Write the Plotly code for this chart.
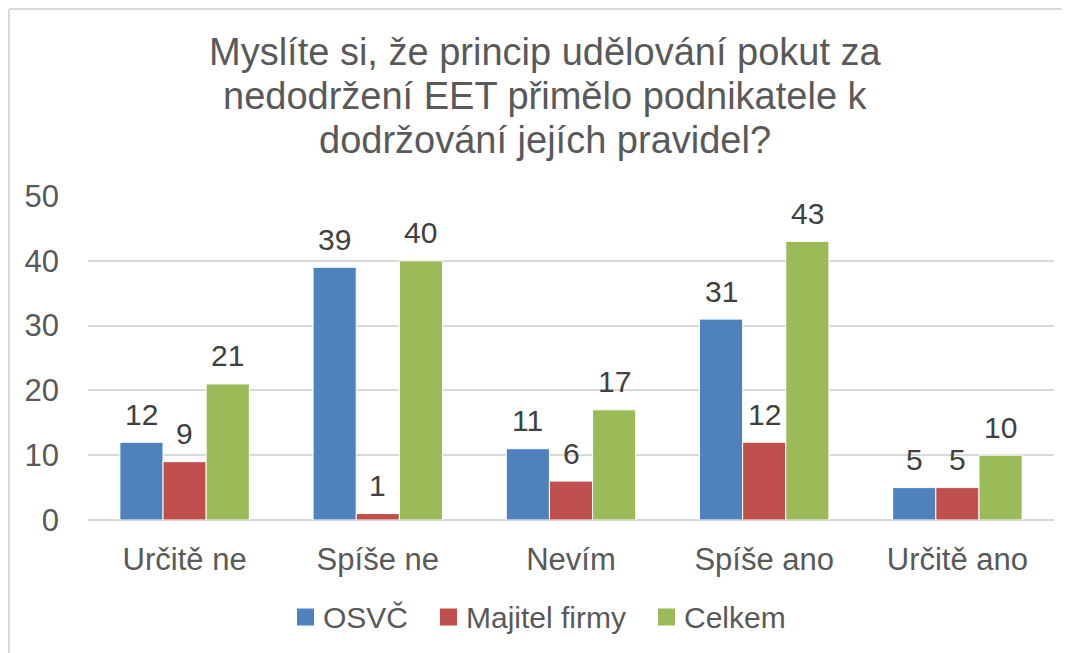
import plotly.graph_objects as go

categories = ["Určitě ne", "Spíše ne", "Nevím", "Spíše ano", "Určitě ano"]
series_names = ["OSVČ", "Majitel firmy", "Celkem"]
osvc = [12, 39, 11, 31, 5]
majitel = [9, 1, 6, 12, 5]
celkem = [21, 40, 17, 43, 10]
colors = ["#4F81BD", "#C0504D", "#9BBB59"]
y_ticks = [0, 10, 20, 30, 40, 50]
title_lines = [
    "Myslíte si, že princip udělování pokut za",
    "nedodržení EET přimělo podnikatele k",
    "dodržování jejích pravidel?",
]

OFF = 8  # page body margin
W, H = 1062, 645
L, T = 88 - OFF, 196 - OFF
pw, ph = 966, 324
R = W - L - pw
B = H - T - ph
BARGAP = 0.33

def px_x(x):
    return (x - OFF - L) / pw

def px_y(y):
    return (T + ph - (y - OFF)) / ph

font = "Liberation Sans, Arial, sans-serif"
fig = go.Figure()
all_series = [osvc, majitel, celkem]
for name, vals, c in zip(series_names, all_series, colors):
    fig.add_trace(go.Bar(
        x=categories, y=vals, name=name, showlegend=False,
        marker=dict(color=c, line=dict(color="white", width=1)),
        cliponaxis=False,
    ))

# data labels above bars
bar_w = pw / len(categories) * (1 - BARGAP) / len(all_series)
annotations = []
for i, vals in enumerate(all_series):
    for cat, v in zip(categories, vals):
        annotations.append(dict(
            x=cat, y=v, xref="x", yref="y", text=str(v), showarrow=False,
            xshift=(i - 1) * bar_w, yshift=28, yanchor="middle",
            font=dict(size=30, color="#404040", family=font),
        ))

# title lines
for k, line in enumerate(title_lines):
    annotations.append(dict(
        x=px_x(545), y=px_y(52 + 44 * k), xref="paper", yref="paper",
        text=line, showarrow=False, xanchor="center", yanchor="middle",
        font=dict(size=38, color="#595959", family=font),
    ))

# legend (manual, to match the square swatches)
legend_starts = [297, 440, 658]
legend_y = 617
shapes = []
for name, c, x0 in zip(series_names, colors, legend_starts):
    shapes.append(dict(
        type="rect", xref="paper", yref="paper",
        x0=px_x(x0), x1=px_x(x0 + 17), y0=px_y(legend_y + 8.5), y1=px_y(legend_y - 8.5),
        fillcolor=c, line=dict(width=0),
    ))
    annotations.append(dict(
        x=px_x(x0 + 24), y=px_y(legend_y), xref="paper", yref="paper",
        text=name, showarrow=False, xanchor="left", yanchor="middle",
        font=dict(size=30, color="#595959", family=font),
    ))

shapes += [
    dict(type="line", xref="paper", yref="paper",
         x0=px_x(9), x1=px_x(9), y0=px_y(9), y1=px_y(700),
         line=dict(color="#D9D9D9", width=2)),
    dict(type="line", xref="paper", yref="paper",
         x0=px_x(9), x1=px_x(1075), y0=px_y(9), y1=px_y(9),
         line=dict(color="#D9D9D9", width=2)),
]

fig.update_layout(
    width=W, height=H,
    margin=dict(l=L, r=R, t=T, b=B),
    paper_bgcolor="white", plot_bgcolor="white",
    barmode="group", bargap=BARGAP, bargroupgap=0,
    font=dict(family=font, color="#595959"),
    annotations=annotations,
    shapes=shapes,
    showlegend=False,
    xaxis=dict(
        tickfont=dict(size=31, color="#595959"),
        showgrid=False, showline=False, ticks="", ticklabelstandoff=18,
    ),
    yaxis=dict(
        range=[0, 50], tickvals=y_ticks,
        tickfont=dict(size=31, color="#595959"),
        showgrid=True, gridcolor="#D9D9D9", gridwidth=2,
        zeroline=True, zerolinecolor="#D9D9D9", zerolinewidth=2,
        ticks="", showline=False, ticklabelstandoff=28,
    ),
)

fig.write_html("out.html")
